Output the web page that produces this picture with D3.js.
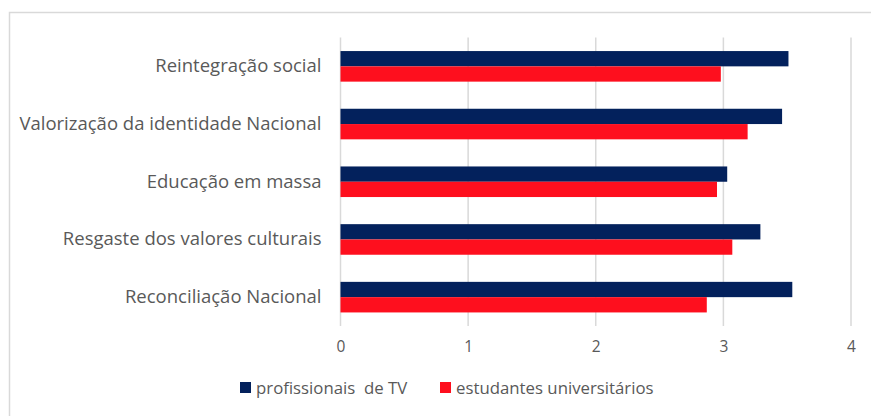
<!DOCTYPE html>
<html>
<head>
<meta charset="utf-8">
<script src="https://cdn.jsdelivr.net/npm/d3@7"></script>
<style>
  body { margin: 0; background: #fff; }
  svg { display: block; font-family: 'Open Sans', sans-serif; }
</style>
</head>
<body>
<svg id="chart" width="871" height="416"></svg>
<script>
const categories = [
  'Reintegração social',
  'Valorização da identidade Nacional',
  'Educação em massa',
  'Resgaste dos valores culturais',
  'Reconciliação Nacional',
]
const seriesNames = ['profissionais  de TV', 'estudantes universitários']
const profissionais = [3.51, 3.46, 3.03, 3.29, 3.54]
const estudantes = [2.98, 3.19, 2.95, 3.07, 2.87]
const xTicks = [0, 1, 2, 3, 4]
const colors = ['#03215c', '#fe0f1e']

const margin = { top: 37.5, right: 20, bottom: 90, left: 340.5 }
const width = 851 - margin.left
const height = 326 - margin.top

const svg = d3.select('#chart')

// chart frame (clipped by the window on right and bottom)
svg
  .append('rect')
  .attr('x', 9.5)
  .attr('y', 12.5)
  .attr('width', 900)
  .attr('height', 450)
  .attr('fill', 'none')
  .attr('stroke', '#d9d9d9')
  .attr('stroke-width', 1.5)

const g = svg
  .append('g')
  .attr('transform', `translate(${margin.left}, ${margin.top})`)

const xScale = d3.scaleLinear().domain([0, 4]).range([0, width])

const yScale = d3
  .scaleBand()
  .domain(categories)
  .range([0, height])
  .paddingInner(0.47)
  .paddingOuter(0.235)

const ySub = d3
  .scaleBand()
  .domain(seriesNames)
  .range([0, yScale.bandwidth()])

// gridlines
g.append('g')
  .selectAll('line')
  .data(xTicks)
  .join('line')
  .attr('x1', d => xScale(d))
  .attr('x2', d => xScale(d))
  .attr('y1', 0)
  .attr('y2', height)
  .attr('stroke', '#d9d9d9')
  .attr('stroke-width', 1.5)

// x axis labels
const xAxis = g
  .append('g')
  .attr('transform', `translate(0, ${height})`)
  .call(
    d3
      .axisBottom(xScale)
      .tickValues(xTicks)
      .tickFormat(d3.format('d'))
      .tickSize(0)
      .tickPadding(15)
  )
xAxis.select('.domain').remove()
xAxis
  .selectAll('text')
  .attr('fill', '#595959')
  .style('font-size', '15.5px')
  .style('font-family', "'Open Sans', sans-serif")

// y axis labels
const yAxis = g.append('g').call(d3.axisLeft(yScale).tickSize(0).tickPadding(19))
yAxis.select('.domain').remove()
yAxis
  .selectAll('text')
  .attr('fill', '#595959')
  .style('font-size', '18.5px')
  .style('font-family', "'Open Sans', sans-serif")

const rows = categories.map((c, i) => ({
  category: c,
  values: [
    { name: seriesNames[0], value: profissionais[i], color: colors[0] },
    { name: seriesNames[1], value: estudantes[i], color: colors[1] },
  ],
}))

g.append('g')
  .selectAll('g')
  .data(rows)
  .join('g')
  .attr('transform', d => `translate(0, ${yScale(d.category)})`)
  .selectAll('rect')
  .data(d => d.values)
  .join('rect')
  .attr('x', 0)
  .attr('y', d => ySub(d.name))
  .attr('width', d => xScale(d.value))
  .attr('height', ySub.bandwidth())
  .attr('fill', d => d.color)

// legend
const legendItems = [
  { name: 'profissionais  de TV', color: colors[0], x: 240 },
  { name: 'estudantes universitários', color: colors[1], x: 440 },
]
const legend = svg
  .append('g')
  .selectAll('g')
  .data(legendItems)
  .join('g')
  .attr('transform', d => `translate(${d.x}, 382)`)

legend
  .append('rect')
  .attr('width', 11)
  .attr('height', 11)
  .attr('fill', d => d.color)

legend
  .append('text')
  .attr('x', 16)
  .attr('y', 11.5)
  .attr('fill', '#595959')
  .style('font-size', '16.8px')
  .style('white-space', 'pre')
  .text(d => d.name)
</script>
</body>
</html>
